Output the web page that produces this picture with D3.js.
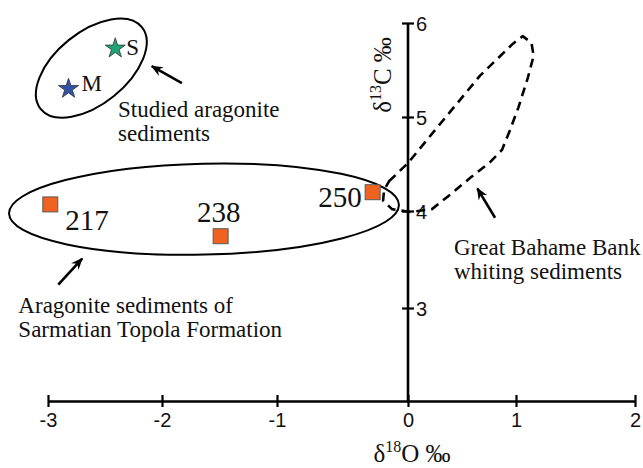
<!DOCTYPE html>
<html>
<head>
<meta charset="utf-8">
<script src="https://cdn.jsdelivr.net/npm/d3@7"></script>
<style>
  html, body { margin: 0; padding: 0; background: #fff; }
  svg { display: block; }
</style>
</head>
<body>
<svg id="chart" width="643" height="468"></svg>
<script>
// ---------------- DATA ----------------
const xTicks = [-3, -2, -1, 0, 1, 2];
const yTicks = [3, 4, 5, 6];

// Studied aragonite sediments (stars)
const starNames = ["S", "M"];
const starO = [-2.41, -2.82];
const starC = [5.73, 5.30];
const starColors = ["#1fa379", "#2f52a6"];

// Sarmatian Topola Formation (squares)
const sampleNames = ["217", "238", "250"];
const sampleO = [-2.98, -1.49, -0.27];
const sampleC = [4.07, 3.74, 4.20];

// Great Bahama Bank whiting sediments field (dashed outline)
const bahamaO = [-0.145, 0.0, 0.25, 0.667, 0.972, 1.056, 1.13, 1.148, 1.10, 1.02, 0.944, 0.87, 0.76, 0.574, 0.407, 0.222, 0.02, -0.122, -0.19, -0.183];
const bahamaC = [4.316, 4.51, 4.86, 5.44, 5.78, 5.86, 5.79, 5.65, 5.42, 5.10, 4.86, 4.65, 4.52, 4.35, 4.19, 4.02, 3.99, 4.02, 4.11, 4.22];

// Field ellipses (centre in data units)
const ellipseO = [-2.62, -1.635];
const ellipseC = [5.52, 4.02];

// Annotation texts
const noteLines = [
  ["Studied aragonite", "sediments"],
  ["Aragonite sediments of", "Sarmatian Topola Formation"],
  ["Great Bahame Bank", "whiting sediments"]
];
const noteO = [-2.386, -3.26, 0.426];
const noteC = [5.0, 2.95, 3.55];

// Arrows (from -> to, data units)
const arrowFromO = [-1.827, -2.91, 0.806];
const arrowFromC = [5.36, 3.24, 3.93];
const arrowToO = [-2.09, -2.70, 0.642];
const arrowToC = [5.54, 3.51, 4.24];

// ---------------- LAYOUT ----------------
const svg = d3.select("#chart");
const x = d3.scaleLinear().domain(xTicks).range([48, 162, 277, 408, 516, 635]);
const y = d3.scaleLinear().domain([2, 3, 4, 5, 6]).range([401, 308, 211, 117, 23]);

const serif = "'Liberation Serif', 'Times New Roman', serif";
const sans = "'Liberation Sans', Arial, sans-serif";

// arrow marker
svg.append("defs").append("marker")
  .attr("id", "head")
  .attr("viewBox", "-12 -6 14 12")
  .attr("refX", 0).attr("refY", 0)
  .attr("markerWidth", 14).attr("markerHeight", 12)
  .attr("markerUnits", "userSpaceOnUse")
  .attr("orient", "auto")
  .append("path")
  .attr("d", "M1,0 L-11,-5 L-7,0 L-11,5 Z")
  .attr("fill", "#000");

// ---------------- AXES ----------------
const xAxis = svg.append("g")
  .attr("transform", `translate(0,${y(2)})`)
  .call(d3.axisBottom(x).tickValues(xTicks).tickSizeOuter(0).tickFormat(d3.format("d")));
xAxis.select(".domain").attr("stroke", "#000").attr("stroke-width", 2.6);
xAxis.selectAll(".tick line").attr("y1", -6).attr("y2", 6).attr("stroke-width", 2.2);
xAxis.selectAll(".tick text")
  .attr("y", 12).attr("dy", "0.71em")
  .attr("font-family", sans).attr("font-size", 20).attr("fill", "#111")
  .text(d => d < 0 ? "-" + Math.abs(d) : d);

const yAxis = svg.append("g")
  .attr("transform", `translate(${x(0)},0)`)
  .call(d3.axisRight(y).tickValues(yTicks).tickSizeOuter(0).tickFormat(d3.format("d")));
yAxis.select(".domain").attr("d", `M0,${y(2)}V${y(6)}`).attr("stroke", "#000").attr("stroke-width", 2.6);
yAxis.selectAll(".tick line").attr("x1", -6).attr("x2", 6).attr("stroke-width", 2.2);
yAxis.selectAll(".tick text")
  .attr("x", 8).attr("dy", "0.38em")
  .attr("font-family", sans).attr("font-size", 20).attr("fill", "#111");

// axis titles
const xt = svg.append("text")
  .attr("x", 412).attr("y", 462)
  .attr("text-anchor", "middle")
  .attr("font-family", serif).attr("font-size", 25).attr("fill", "#111");
xt.append("tspan").text("δ");
xt.append("tspan").attr("font-size", 16).attr("dy", -10).text("18");
xt.append("tspan").attr("dy", 10).text("O ‰");

const yt = svg.append("text")
  .attr("transform", `translate(391,75) rotate(-90)`)
  .attr("text-anchor", "middle")
  .attr("font-family", serif).attr("font-size", 25).attr("fill", "#111");
yt.append("tspan").text("δ");
yt.append("tspan").attr("font-size", 16).attr("dy", -10).text("13");
yt.append("tspan").attr("dy", 10).text("C ‰");

// ---------------- FIELDS ----------------
const bahama = bahamaO.map((o, i) => [x(o), y(bahamaC[i])]);
svg.append("path")
  .attr("d", d3.line().curve(d3.curveLinearClosed)(bahama))
  .attr("fill", "none").attr("stroke", "#000")
  .attr("stroke-width", 2.6).attr("stroke-dasharray", "9,6")
  .attr("stroke-linejoin", "round");

const ellipseR = [[65, 36, -39], [195, 45.5, -1.3]];
svg.selectAll("ellipse.field")
  .data(ellipseO.map((o, i) => ({ o, c: ellipseC[i], r: ellipseR[i] })))
  .join("ellipse")
  .attr("class", "field")
  .attr("transform", d => `translate(${x(d.o)},${y(d.c)}) rotate(${d.r[2]})`)
  .attr("rx", d => d.r[0]).attr("ry", d => d.r[1])
  .attr("fill", "none").attr("stroke", "#000").attr("stroke-width", 2);

// ---------------- POINTS ----------------
const sq = 15;
svg.selectAll("rect.sample")
  .data(sampleNames.map((n, i) => ({ n, o: sampleO[i], c: sampleC[i] })))
  .join("rect")
  .attr("class", "sample")
  .attr("x", d => x(d.o) - sq / 2).attr("y", d => y(d.c) - sq / 2)
  .attr("width", sq).attr("height", sq)
  .attr("fill", "#f0621f").attr("stroke", "#5a5a5a").attr("stroke-width", 1);

const sampleLabelOff = [[15, 26, "start"], [-2, -14, "middle"], [-11, 15, "end"]];
svg.selectAll("text.sample")
  .data(sampleNames.map((n, i) => ({ n, o: sampleO[i], c: sampleC[i], off: sampleLabelOff[i] })))
  .join("text")
  .attr("class", "sample")
  .attr("x", d => x(d.o) + d.off[0]).attr("y", d => y(d.c) + d.off[1])
  .attr("text-anchor", d => d.off[2])
  .attr("font-family", serif).attr("font-size", 29).attr("fill", "#111")
  .text(d => d.n);

svg.selectAll("path.star")
  .data(starNames.map((n, i) => ({ n, o: starO[i], c: starC[i], col: starColors[i] })))
  .join("path")
  .attr("class", "star")
  .attr("transform", d => `translate(${x(d.o)},${y(d.c)})`)
  .attr("d", d3.symbol(d3.symbolStar, 125))
  .attr("fill", d => d.col).attr("stroke", "#333").attr("stroke-width", 0.8);

const starLabelOff = [[11, 7], [13, 2]];
svg.selectAll("text.star")
  .data(starNames.map((n, i) => ({ n, o: starO[i], c: starC[i], off: starLabelOff[i] })))
  .join("text")
  .attr("class", "star")
  .attr("x", d => x(d.o) + d.off[0]).attr("y", d => y(d.c) + d.off[1])
  .attr("font-family", serif).attr("font-size", 23).attr("fill", "#111")
  .text(d => d.n);

// ---------------- ANNOTATIONS ----------------
noteLines.forEach((lines, i) => {
  const t = svg.append("text")
    .attr("x", x(noteO[i])).attr("y", y(noteC[i]))
    .attr("font-family", serif).attr("font-size", 23).attr("fill", "#111");
  lines.forEach((l, j) => {
    t.append("tspan").attr("x", x(noteO[i])).attr("dy", j === 0 ? 0 : 24).text(l);
  });
});

svg.selectAll("line.arrow")
  .data(arrowFromO.map((o, i) => ({ x1: x(o), y1: y(arrowFromC[i]), x2: x(arrowToO[i]), y2: y(arrowToC[i]) })))
  .join("line")
  .attr("class", "arrow")
  .attr("x1", d => d.x1).attr("y1", d => d.y1)
  .attr("x2", d => d.x2).attr("y2", d => d.y2)
  .attr("stroke", "#000").attr("stroke-width", 2.6)
  .attr("marker-end", "url(#head)");
</script>
</body>
</html>
